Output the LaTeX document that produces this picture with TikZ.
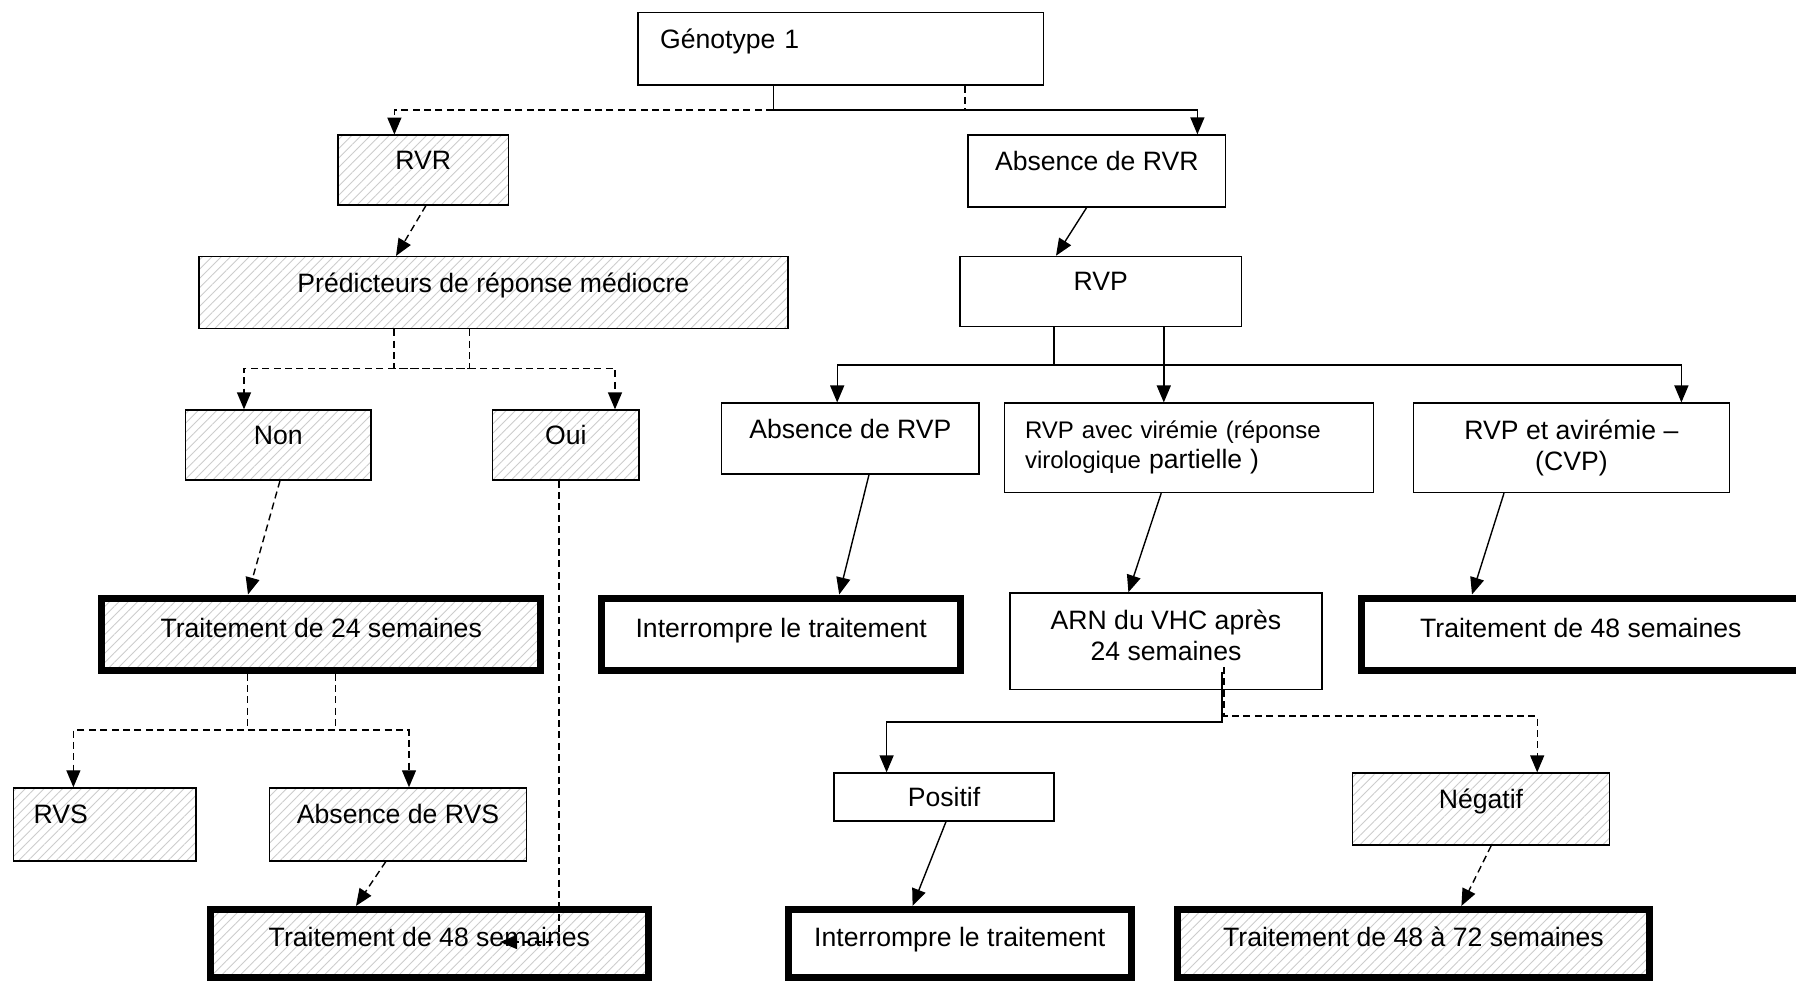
\documentclass[tikz,border=0pt]{standalone}
\usepackage{fontspec}
\setmainfont{Liberation Sans}
\usepackage{tikz}
\usetikzlibrary{arrows.meta,patterns.meta}

\begin{document}
\begin{tikzpicture}[x=1pt,y=-1pt,font=\fontsize{13.3}{15.3}\selectfont,>={Triangle[length=8.5pt,width=7pt]},line width=0.7pt]
\tikzstyle{b}=[draw,line width=0.65pt,inner sep=0pt]
\tikzstyle{s}=[text height=9.5pt,text depth=10pt]
\tikzstyle{tb}=[b,line width=3.5pt,text height=9.5pt,text depth=6pt]
\tikzstyle{h}=[pattern={Lines[angle=45,distance=3.3pt,line width=0.45pt]},pattern color=black!20]
\tikzstyle{d}=[dash pattern=on 3.5pt off 2.2pt]
\useasboundingbox (0,0) rectangle (898,491);
\clip (0,0) rectangle (898,491);
% first level
\node[b,s,minimum width=202.7pt,minimum height=36.1pt,inner xsep=11pt,text width=180.7pt,align=left] (geno) at (420.4,24.4) {Génotype 1};
\node[b,s,h,minimum width=85.3pt,minimum height=35pt] (rvr) at (211.6,85) {RVR};
\node[b,s,minimum width=128.8pt,minimum height=36pt] (absrvr) at (548.4,85.5) {Absence de RVR};
\node[b,s,h,minimum width=294.5pt,minimum height=36pt] (pred) at (246.7,146.3) {Prédicteurs de réponse médiocre};
\node[b,s,minimum width=140.8pt,minimum height=35pt] (rvp) at (550.4,145.7) {RVP};
\node[b,s,h,minimum width=92.8pt,minimum height=35pt] (non) at (139.1,222.5) {Non};
\node[b,s,h,minimum width=73.3pt,minimum height=35pt] (oui) at (282.9,222.5) {Oui};
\node[b,s,minimum width=128.7pt,minimum height=35.5pt] (absrvp) at (425.2,219.3) {Absence de RVP};
\node[b,minimum width=184.4pt,minimum height=44.7pt,inner xsep=10.3pt,text width=163.8pt,align=left,font=\fontsize{12}{15}\selectfont] (rvpvir) at (594.4,223.9) {RVP avec virémie (réponse\\virologique {\fontsize{13.3}{15}\selectfont partielle )}};
\node[b,minimum width=158.2pt,minimum height=44.7pt,align=center] (cvp) at (785.7,223.9) {RVP et avirémie --\\(CVP)};
% treatments
\node[tb,h,minimum width=219.3pt,minimum height=36pt] (t24) at (160.6,317) {Traitement de 24 semaines};
\node[tb,minimum width=179.7pt,minimum height=36pt] (int1) at (390.6,317) {Interrompre le traitement};
\node[b,text depth=6pt,minimum width=156pt,minimum height=48.3pt,align=center] (arn) at (583,320.6) {ARN du VHC après\\24 semaines};
\node[tb,minimum width=219.2pt,minimum height=36pt] (t48r) at (790.4,317) {Traitement de 48 semaines};
\node[b,s,h,minimum width=91.1pt,minimum height=36.5pt,inner xsep=10pt,text width=71.1pt,align=left] (rvs) at (52.4,412.2) {RVS};
\node[b,s,h,minimum width=128.8pt,minimum height=36.5pt] (absrvs) at (199,412.2) {Absence de RVS};
\node[b,text height=9.5pt,text depth=0pt,minimum width=110pt,minimum height=24pt] (pos) at (472,398.5) {Positif};
\node[b,s,h,minimum width=128.3pt,minimum height=36pt] (neg) at (740.5,404.5) {Négatif};
\node[tb,h,minimum width=218.7pt,minimum height=34pt] (t48l) at (214.7,471.7) {Traitement de 48 semaines};
\node[tb,minimum width=171.8pt,minimum height=34pt] (int2) at (479.9,471.7) {Interrompre le traitement};
\node[tb,h,minimum width=235.8pt,minimum height=34pt] (t4872) at (706.7,471.7) {Traitement de 48 à 72 semaines};
\coordinate (ouiend) at (250,471);
% connectors
\draw[->] ([xshift=-33.8pt]geno.south) -- ++(0,12.3) -| ([xshift=50.3pt]absrvr.north);
\draw[->,d] ([xshift=62.1pt]geno.south) -- ++(0,12.3) -| ([xshift=-14.4pt]rvr.north);
\draw[->,d] ([xshift=1.4pt]rvr.south) -- ([xshift=-48.7pt]pred.north);
\draw[->] ([xshift=-5.1pt]absrvr.south) -- ([xshift=-22.4pt]rvp.north);
\draw[->,d] ([xshift=-11.9pt]pred.south) -- ++(0,19.5) -| ([xshift=-17.1pt]non.north);
\draw[->,d] ([xshift=-49.7pt]pred.south) -- ++(0,19.5) -| ([xshift=24.6pt]oui.north);
\draw[->] ([xshift=-23.5pt]rvp.south) -- ++(0,18.9) -| ([xshift=-6.6pt]absrvp.north);
\draw[->] ([xshift=-23.5pt]rvp.south) -- ++(0,18.9) -| ([xshift=55pt]cvp.north);
\draw[->] ([xshift=31.5pt]rvp.south) -- ([xshift=-12.5pt]rvpvir.north);
\draw[->,d] ([xshift=0.9pt]non.south) -- ([xshift=-36.6pt]t24.north);
\draw[->,d] ([xshift=-3.4pt]oui.south) |- (ouiend);
\draw[->,d] ([xshift=7.2pt]t24.south) -- ++(0,28.3) -| ([xshift=-15.7pt]rvs.north);
\draw[->,d] ([xshift=-36.9pt]t24.south) -- ++(0,28.3) -| ([xshift=5.5pt]absrvs.north);
\draw[->] ([xshift=9.3pt]absrvp.south) -- ([xshift=29pt]int1.north);
\draw[->] ([xshift=-13.8pt]rvpvir.south) -- ([xshift=-18.8pt]arn.north);
\draw[->] ([xshift=-33.7pt]cvp.south) -- ([xshift=-54.4pt]t48r.north);
\draw[->] ([xshift=27.9pt,yshift=-15.4pt]arn.center) -- ++(0,25) -| ([xshift=-28.7pt]pos.north);
\draw[->,d] ([xshift=29pt,yshift=-12.9pt]arn.center) -- ++(0,24.5) -| ([xshift=28.1pt]neg.north);
\draw[->,d] ([xshift=-6.1pt]absrvs.south) -- ([xshift=-36.7pt]t48l.north);
\draw[->] ([xshift=1pt]pos.south) -- ([xshift=-23.6pt]int2.north);
\draw[->,d] ([xshift=5.1pt]neg.south) -- ([xshift=24pt]t4872.north);
\end{tikzpicture}
\end{document}
